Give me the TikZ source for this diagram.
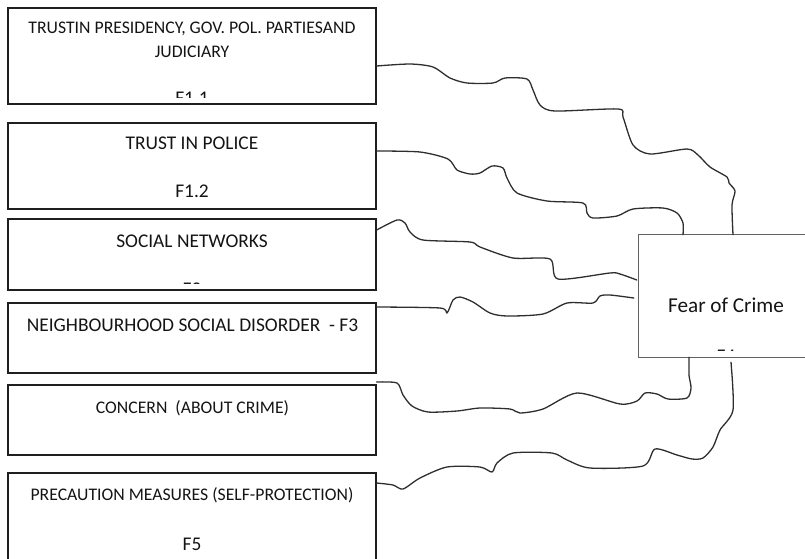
\documentclass[tikz,border=0pt]{standalone}
\usepackage{fontspec}
\setmainfont{Carlito}
\begin{document}
\begin{tikzpicture}[x=1pt,y=-1pt,
  box/.style={draw=black!88, line width=1.2pt, rectangle, inner sep=0pt, minimum width=368pt},
  fbox/.style={rectangle, inner sep=0pt, minimum width=200pt, minimum height=122pt},
  fborder/.style={draw=black!62, line width=1.3pt},
  lbl/.style={anchor=base, inner sep=0pt, text=black!92, font=\fontsize{19.4}{23}\selectfont},
  small/.style={font=\fontsize{17.7}{21}\selectfont},
  conn/.style={draw=black!82, line width=1.3pt, line join=round, line cap=round}]
\useasboundingbox (0,0) rectangle (805,558);
\begin{scope}
\clip (0,0) rectangle (805,558);
% boxes
\node[box, minimum height=96pt] (b1) at (192,56) {};
\node[box, minimum height=86pt] (b2) at (192,166) {};
\node[box, minimum height=71pt] (b3) at (192,254.5) {};
\node[box, minimum height=70pt] (b4) at (192,338) {};
\node[box, minimum height=70pt] (b5) at (192,420) {};
\node[box, minimum height=127pt] (b6) at (192,536.5) {};
\node[fbox] (fear) at (739,296) {};
\draw[fborder] (fear.north east) -- (fear.north west) -- (fear.south west) -- (fear.south east);
% texts
\node[lbl, small] (t1a) at (192,33) {TRUSTIN PRESIDENCY, GOV. POL. PARTIESAND};
\node[lbl, small] (t1b) at (192,57) {JUDICIARY};
\node[lbl] (t2a) at (192,149) {TRUST IN POLICE};
\node[lbl] (t2b) at (192,197) {F1.2};
\node[lbl] (t3a) at (192,247) {SOCIAL NETWORKS};
\node[lbl] (t4a) at (192.5,331) {NEIGHBOURHOOD SOCIAL DISORDER \ - F3};
\node[lbl, small] (t5a) at (192.5,413) {CONCERN \ (ABOUT CRIME)};
\node[lbl, small] (t6a) at (192,500) {PRECAUTION MEASURES (SELF-PROTECTION)};
\node[lbl] (t6b) at (192,550) {F5};
\node[lbl, font=\fontsize{21.2}{25}\selectfont] (tf) at (726,312) {Fear of Crime};
\end{scope}
% clipped partial labels
\begin{scope}
\clip (8,8) rectangle (376,97);
\node[lbl] (t1c) at (192,104.5) {F1.1};
\end{scope}
\begin{scope}
\clip (8,219) rectangle (376,283.5);
\node[lbl] (t3b) at (192,295) {F2};
\end{scope}
\begin{scope}
\clip (639,235) rectangle (805,350.5);
\node[lbl] (tfb) at (726,362.5) {F4};
\end{scope}
% connector endpoints
\coordinate (s1) at ([yshift=-10pt]b1.east);
\coordinate (s2) at ([yshift=15pt]b2.east);
\coordinate (s3) at ([yshift=24.5pt]b3.east);
\coordinate (s4) at ([yshift=31pt]b4.east);
\coordinate (s5) at ([yshift=38pt]b5.east);
\coordinate (s6) at ([yshift=53.5pt]b6.east);
\coordinate (e1) at ([xshift=-6pt]fear.north);
\coordinate (e2) at ([xshift=-56pt]fear.north);
\coordinate (e3) at ([xshift=-2pt,yshift=16pt]fear.west);
\coordinate (e4) at ([xshift=-5pt,yshift=-2pt]fear.west);
\coordinate (e5) at ([xshift=-50pt]fear.south);
\coordinate (e6) at ([xshift=-8pt,yshift=-5pt]fear.south);
\begin{scope}
\clip (0,0) rectangle (805,558);
\draw[conn] plot[smooth, tension=0.45] coordinates {(s1) (410,64) (433,67) (450,78) (467,83) (493,83) (505,78) (527,79) (533,90) (540,105) (555,111) (618,109) (623,117) (633,145) (650,154) (687,149) (698,155) (710,167) (727,177) (729,183) (735,191) (732,205) (e1)};
\draw[conn] plot[smooth, tension=0.45] coordinates {(s2) (420,152) (448,159) (457,170) (470,174) (480,173) (492,166) (503,168) (507,178) (517,193) (547,201) (583,203) (587,213) (593,218) (617,216) (633,209) (663,208) (677,213) (683,223) (e2)};
\draw[conn] plot[smooth, tension=0.45] coordinates {(s3) (397,220) (405,223) (410,232) (423,240) (470,242) (480,247) (513,258) (550,259) (558,279) (610,273) (620,274) (e3)};
\draw[conn] plot[smooth, tension=0.45] coordinates {(s4) (440,308) (447,313) (453,300) (460,297) (473,302) (490,313) (507,316) (543,314) (567,303) (593,303) (600,296) (610,295) (e4)};
\draw[conn] plot[smooth, tension=0.45] coordinates {(e5) (689,375) (691,388) (687,398) (668,399) (657,394) (645,393) (637,401) (620,404) (577,393) (543,409) (520,413) (510,409) (480,408) (457,411) (428,412) (412,406) (403,395) (397,383) (s5)};
\draw[conn] plot[smooth, tension=0.45] coordinates {(e6) (733,410) (720,430) (713,447) (703,458) (692,459) (677,455) (655,449) (643,466) (590,468) (567,460) (552,453) (513,453) (497,463) (492,472) (480,467) (447,467) (420,478) (403,489) (393,485) (s6)};
\end{scope}
\end{tikzpicture}
\end{document}
